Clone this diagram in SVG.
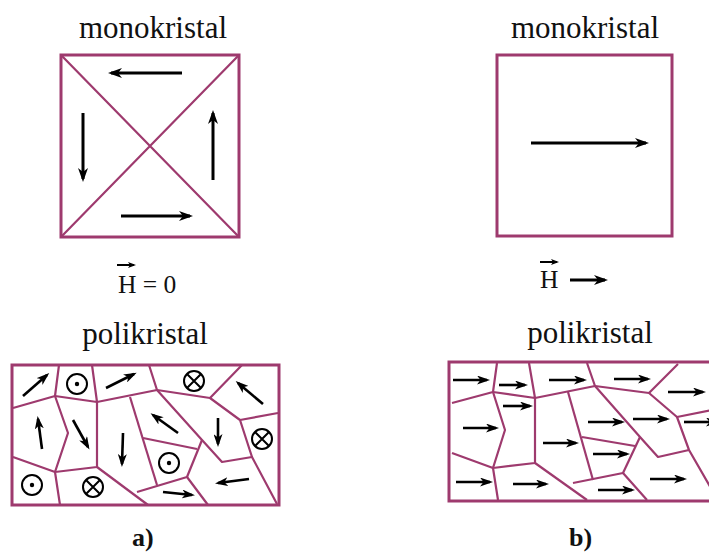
<svg xmlns="http://www.w3.org/2000/svg" width="709" height="554" viewBox="0 0 709 554">
<style>
.t{font-family:"Liberation Serif","Times New Roman",serif;fill:#111}
.frame{fill:none;stroke:#9e3a6e;stroke-width:3}
.gb{fill:none;stroke:#9e3a6e;stroke-width:2.2;stroke-linejoin:round}
.ar{stroke:#000;stroke-width:3;fill:none;marker-end:url(#hb)}
.as{stroke:#000;stroke-width:2.6;fill:none;marker-end:url(#hs)}
.c{fill:none;stroke:#000;stroke-width:2}
</style>
<defs>
<marker id="hb" viewBox="0 0 14 10" refX="11" refY="5" markerWidth="14" markerHeight="10" markerUnits="userSpaceOnUse" orient="auto"><path d="M0,0 L14,5 L0,10 L4,5 Z" fill="#000"/></marker>
<marker id="hs" viewBox="0 0 13 9" refX="10" refY="4.5" markerWidth="13" markerHeight="9" markerUnits="userSpaceOnUse" orient="auto"><path d="M0,0 L13,4.5 L0,9 L3.5,4.5 Z" fill="#000"/></marker>
<marker id="hh" viewBox="0 0 8 6" refX="6" refY="3" markerWidth="8" markerHeight="6" markerUnits="userSpaceOnUse" orient="auto"><path d="M0,0 L8,3 L0,6 L2,3 Z" fill="#000"/></marker>
<g id="odot"><circle r="10" class="c"/><circle r="2.2" fill="#000"/></g>
<g id="otimes"><circle r="10" class="c"/><path d="M-7,-7 L7,7 M7,-7 L-7,7" stroke="#000" stroke-width="2"/></g>
</defs>

<!-- Panel a: monocrystal -->
<g id="a-mono">
<text class="t" x="153" y="38" font-size="31" text-anchor="middle">monokristal</text>
<rect class="frame" x="61" y="55" width="178" height="182"/>
<path class="gb" d="M61,55 L239,237 M239,55 L61,237"/>
<line class="ar" x1="182" y1="73" x2="111" y2="73"/>
<line class="ar" x1="83" y1="113" x2="83" y2="179"/>
<line class="ar" x1="213" y1="180" x2="213" y2="113"/>
<line class="ar" x1="121" y1="216" x2="190" y2="216"/>
</g>

<g id="a-field">
<text class="t" x="118" y="293" font-size="25.5">H = 0</text>
<line x1="117" y1="265" x2="134" y2="265" stroke="#000" stroke-width="2" marker-end="url(#hh)"/>
</g>

<!-- Panel a: polycrystal -->
<g id="a-poly">
<text class="t" x="145" y="344" font-size="31" text-anchor="middle">polikristal</text>
<rect class="frame" x="12" y="365" width="267" height="140"/>
<g class="gb">
<path d="M59,365 L55,396 L13,408"/>
<path d="M55,396 L97,402 L92,365"/>
<path d="M55,396 L68,433 L55,472 L13,457"/>
<path d="M97,402 L97,467 L55,472 L60,505"/>
<path d="M97,467 L148,505"/>
<path d="M97,402 L157,390 L149,365"/>
<path d="M157,390 L210,398 L242,365"/>
<path d="M130,397 L157,485"/>
<path d="M137,492 L187,477 L208,505"/>
<path d="M143,438 L197,449"/>
<path d="M157,390 L202,440 L222,462 L252,457"/>
<path d="M202,440 L187,477"/>
<path d="M210,398 L240,420 L252,457 L277,504"/>
<path d="M240,420 L278,413"/>
</g>
<line class="as" x1="23" y1="396" x2="47" y2="375"/>
<use href="#odot" x="77" y="384"/>
<line class="as" x1="106" y1="388" x2="134" y2="374"/>
<use href="#otimes" x="194" y="381"/>
<line class="as" x1="263" y1="404" x2="238" y2="383"/>
<line class="as" x1="42" y1="449" x2="38" y2="419"/>
<line class="as" x1="73" y1="420" x2="88" y2="447"/>
<line class="as" x1="123" y1="433" x2="122" y2="464"/>
<line class="as" x1="178" y1="433" x2="153" y2="415"/>
<line class="as" x1="218" y1="418" x2="218" y2="444"/>
<use href="#otimes" x="262" y="439"/>
<use href="#odot" x="169" y="463"/>
<use href="#odot" x="32" y="485"/>
<use href="#otimes" x="93" y="487"/>
<line class="as" x1="163" y1="492" x2="192" y2="495"/>
<line class="as" x1="249" y1="479" x2="218" y2="483"/>
</g>

<!-- Panel b: monocrystal -->
<g id="b-mono">
<text class="t" x="585" y="38" font-size="31" text-anchor="middle">monokristal</text>
<rect class="frame" x="497" y="55" width="175" height="181"/>
<line class="ar" x1="531" y1="143" x2="646" y2="143"/>
</g>

<g id="b-field">
<text class="t" x="540" y="288" font-size="25.5">H</text>
<line x1="540" y1="262" x2="557" y2="262" stroke="#000" stroke-width="2" marker-end="url(#hh)"/>
<line class="ar" x1="570" y1="280" x2="605" y2="280"/>
</g>

<!-- Panel b: polycrystal -->
<g id="b-poly">
<text class="t" x="590" y="343" font-size="31" text-anchor="middle">polikristal</text>
<path class="frame" d="M712,362 L449,362 L449,501 L712,501"/>
<g class="gb">
<path d="M497,363 L493,392 L452,403"/>
<path d="M493,392 L535,398 L529,363"/>
<path d="M493,392 L505,430 L493,468 L452,453"/>
<path d="M535,398 L535,463 L493,468 L498,500"/>
<path d="M535,463 L587,500"/>
<path d="M535,398 L595,386 L587,363"/>
<path d="M595,386 L649,393 L678,364"/>
<path d="M568,392 L593,480"/>
<path d="M573,483 L623,473 L647,500"/>
<path d="M582,437 L635,446"/>
<path d="M595,386 L640,437 L658,457 L689,450"/>
<path d="M640,437 L623,473"/>
<path d="M649,393 L677,417 L689,450 L712,490"/>
<path d="M677,417 L712,410"/>
</g>
<line class="as" x1="453" y1="380" x2="487" y2="380"/>
<line class="as" x1="499" y1="385" x2="525" y2="385"/>
<line class="as" x1="549" y1="380" x2="584" y2="380"/>
<line class="as" x1="614" y1="379" x2="648" y2="379"/>
<line class="as" x1="668" y1="392" x2="703" y2="392"/>
<line class="as" x1="503" y1="406" x2="530" y2="406"/>
<line class="as" x1="463" y1="428" x2="496" y2="428"/>
<line class="as" x1="588" y1="422" x2="622" y2="422"/>
<line class="as" x1="633" y1="419" x2="667" y2="419"/>
<line class="as" x1="684" y1="422" x2="716" y2="422"/>
<line class="as" x1="543" y1="443" x2="576" y2="443"/>
<line class="as" x1="593" y1="454" x2="627" y2="454"/>
<line class="as" x1="456" y1="482" x2="490" y2="482"/>
<line class="as" x1="513" y1="484" x2="546" y2="484"/>
<line class="as" x1="598" y1="490" x2="632" y2="490"/>
<line class="as" x1="650" y1="479" x2="684" y2="479"/>
</g>

<g id="labels">
<text class="t" x="132" y="546" font-size="26" font-weight="bold">a)</text>
<text class="t" x="569" y="546" font-size="26" font-weight="bold">b)</text>
</g>
</svg>
